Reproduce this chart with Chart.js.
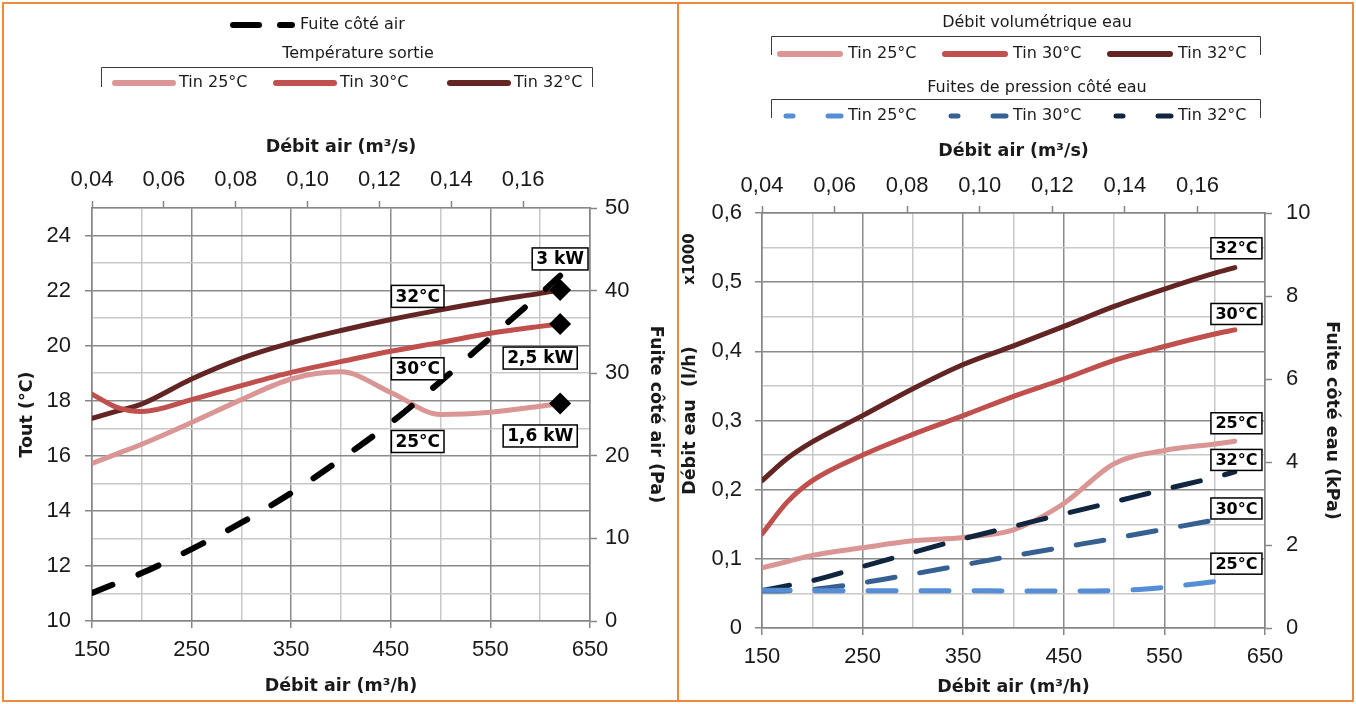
<!DOCTYPE html>
<html lang="fr">
<head>
<meta charset="UTF-8">
<title>Débit air : température de sortie, débit d'eau et pertes de charge</title>
<script src="https://cdn.jsdelivr.net/npm/chart.js"></script>
<style>
  html, body { margin: 0; padding: 0; background: #fff; }
  body { width: 1356px; height: 704px; position: relative; overflow: hidden; }
  canvas { position: absolute; top: 0; }
  #leftChart { left: 0; }
  #rightChart { left: 677px; }
  .frame { position: absolute; background: #eb8a3c; }
</style>
</head>
<body>
<canvas id="leftChart" width="677" height="704"></canvas>
<canvas id="rightChart" width="679" height="704"></canvas>
<div class="frame" style="left:2px;top:2px;width:1352px;height:2px"></div>
<div class="frame" style="left:2px;top:700px;width:1352px;height:2px"></div>
<div class="frame" style="left:2px;top:2px;width:2px;height:700px"></div>
<div class="frame" style="left:1352px;top:2px;width:2px;height:700px"></div>
<div class="frame" style="left:677px;top:2px;width:2px;height:700px"></div>

<script>
// ---- data ----
const airFlow = [150, 175, 200, 250, 300, 350, 400, 450, 500, 550, 600, 620];   // m3/h

// left graph : outlet temperature (°C) and air side pressure drop (Pa)
const tout25 = [15.72, 16.07, 16.42, 17.21, 18.04, 18.79, 19.05, 18.3, 17.5, 17.58, 17.8, 17.9];
const tout30 = [18.24, 17.76, 17.61, 18.04, 18.55, 19.03, 19.42, 19.8, 20.12, 20.45, 20.7, 20.79];
const tout32 = [17.36, 17.62, 17.88, 18.79, 19.54, 20.1, 20.55, 20.95, 21.3, 21.62, 21.9, 22.02];
const airLeakPa = [3.4, 4.6, 5.8, 8.7, 11.9, 15.5, 19.6, 24.0, 29.0, 34.3, 39.6, 41.8];
const powerLabels = ['1,6 kW', '2,5 kW', '3 kW'];

// right graph : water flow (x1000 l/h) and water side pressure drop (kPa)
const water25 = [0.087, 0.096, 0.105, 0.116, 0.126, 0.131, 0.142, 0.18, 0.2375, 0.2567, 0.266, 0.27];
const water30 = [0.136, 0.182, 0.213, 0.25, 0.28, 0.307, 0.335, 0.36, 0.387, 0.407, 0.425, 0.431];
const water32 = [0.213, 0.245, 0.269, 0.307, 0.346, 0.381, 0.408, 0.436, 0.465, 0.49, 0.513, 0.521];
const waterLeak25 = [0.91, 0.91, 0.9, 0.9, 0.9, 0.9, 0.89, 0.89, 0.9, 0.98, 1.12, 1.18];
const waterLeak30 = [0.89, 0.9, 0.93, 1.09, 1.3, 1.52, 1.74, 1.95, 2.16, 2.38, 2.6, 2.69];
const waterLeak32 = [0.9, 1.02, 1.14, 1.48, 1.82, 2.15, 2.45, 2.75, 3.04, 3.34, 3.63, 3.76];

const seriesNames = ['Tin 25°C', 'Tin 30°C', 'Tin 32°C'];
const tagNames = ['25°C', '30°C', '32°C'];

// ---- styling ----
const PINK = '#d99694', RED = '#c0504d', MAROON = '#632523';
const BLUE1 = '#558ed5', BLUE2 = '#376092', BLUE3 = '#10253f';
const AXIS_GREY = '#868686', MAJOR = '#8a8a8a', MINOR = '#c8c8c8';
const NUM_FONT = { family: "'Liberation Sans', Arial, sans-serif", size: 22 };
const TITLE_FONT = { family: "'DejaVu Sans', sans-serif", size: 17.5, weight: 'bold' };
const LEGEND_FONT = "16px 'DejaVu Sans', sans-serif";
const TXT = '#1a1a1a';

const pts = (xs, ys) => xs.map((x, i) => ({ x: x, y: ys[i] }));
const comma = (v, d) => v === 0 ? '0' : v.toFixed(d).replace('.', ',');

function curve(label, ys, color, axis, extra) {
  return Object.assign({
    label: label, data: pts(airFlow, ys), yAxisID: axis,
    borderColor: color, backgroundColor: color, borderWidth: 5,
    pointRadius: 0, fill: false, cubicInterpolationMode: 'monotone',
    borderCapStyle: 'round', borderJoinStyle: 'round'
  }, extra || {});
}

function gridOpts(isMajor) {
  return {
    color: c => isMajor(c.tick.value) ? MAJOR : MINOR,
    lineWidth: 1.5,
    tickLength: 7, tickWidth: 1.5,
    tickColor: c => isMajor(c.tick.value) ? AXIS_GREY : 'rgba(0,0,0,0)'
  };
}
const sideGrid = { drawOnChartArea: false, tickLength: 7, tickWidth: 1.5, tickColor: AXIS_GREY };
const border = { color: AXIS_GREY, width: 1.5 };

function axisTitle(text, pad) {
  return { display: true, text: text, font: TITLE_FONT, color: TXT, padding: pad };
}

function bottomAxis(h, pad, titlePad) {
  const major = v => (v - 150) % 100 === 0;
  return {
    type: 'linear', position: 'bottom', min: 150, max: 650,
    afterFit: s => { s.height = h; },
    ticks: { stepSize: 50, autoSkip: false, maxRotation: 0, padding: pad, font: NUM_FONT, color: TXT,
             callback: v => major(v) ? String(v) : '' },
    grid: gridOpts(major), border: border,
    title: axisTitle('Débit air (m³/h)', { top: 0, bottom: titlePad })
  };
}
function topAxis(h, pad, titlePad) {
  return {
    type: 'linear', position: 'top', min: 0.04, max: 0.1786,
    afterFit: s => { s.height = h; },
    ticks: { stepSize: 0.02, includeBounds: false, autoSkip: false, maxRotation: 0, padding: pad,
             font: NUM_FONT, color: TXT, callback: v => comma(v, 2) },
    grid: sideGrid, border: border,
    title: axisTitle('Débit air (m³/s)', { top: titlePad, bottom: 0 })
  };
}

// ---- canvas helpers ----
function seg(ctx, x1, x2, y, color, w) {
  ctx.save();
  ctx.strokeStyle = color; ctx.lineWidth = w; ctx.lineCap = 'round';
  ctx.beginPath(); ctx.moveTo(x1, y); ctx.lineTo(x2, y); ctx.stroke();
  ctx.restore();
}
function text(ctx, str, x, y, align) {
  ctx.save();
  ctx.font = LEGEND_FONT; ctx.fillStyle = TXT;
  ctx.textAlign = align || 'left'; ctx.textBaseline = 'middle';
  ctx.fillText(str, x, y);
  ctx.restore();
}
function bracket(ctx, x1, x2, y, yEnd) {
  ctx.save();
  ctx.strokeStyle = '#3c3c3c'; ctx.lineWidth = 1;
  ctx.beginPath(); ctx.moveTo(x1, yEnd); ctx.lineTo(x1, y); ctx.lineTo(x2, y); ctx.lineTo(x2, yEnd); ctx.stroke();
  ctx.restore();
}
function tagsPlugin(id, items, size, padX, h) {
  return {
    id: id,
    afterDatasetsDraw(chart) {
      const ctx = chart.ctx;
      items.forEach(t => {
        const px = chart.scales.x.getPixelForValue(t.x);
        const py = chart.scales[t.axis].getPixelForValue(t.y);
        ctx.save();
        ctx.font = "bold " + size + "px 'DejaVu Sans', sans-serif";
        const w = ctx.measureText(t.text).width + 2 * padX;
        ctx.fillStyle = '#fff';
        ctx.fillRect(px - w / 2, py - h / 2, w, h);
        ctx.strokeStyle = '#000'; ctx.lineWidth = 1.5;
        ctx.strokeRect(px - w / 2, py - h / 2, w, h);
        ctx.fillStyle = '#000'; ctx.textAlign = 'center'; ctx.textBaseline = 'middle';
        ctx.fillText(t.text, px, py + 1);
        ctx.restore();
      });
    }
  };
}

// ---- left graph ----
const leftLegend = {
  id: 'leftLegend',
  afterDraw(chart) {
    const ctx = chart.ctx, sets = chart.data.datasets;
    const leak = sets.find(d => d.group === 'leak');
    seg(ctx, 233, 259, 25, leak.borderColor, 6);
    seg(ctx, 280, 292, 25, leak.borderColor, 6);
    text(ctx, leak.label, 300, 25);
    text(ctx, 'Température sortie', 358, 54, 'center');
    bracket(ctx, 101.5, 592.5, 67.5, 87);
    const slots = [115, 276, 450];
    sets.filter(d => d.group === 'temp').forEach((d, i) => {
      seg(ctx, slots[i], slots[i] + 58, 83, d.borderColor, 6);
      text(ctx, d.label, slots[i] + 64, 83);
    });
  }
};

const leftTags = [
  { text: tagNames[2], x: 477, y: 21.79, axis: 'y' },
  { text: tagNames[1], x: 477, y: 19.16, axis: 'y' },
  { text: tagNames[0], x: 477, y: 16.52, axis: 'y' },
  { text: powerLabels[2], x: 620, y: 23.15, axis: 'y' },
  { text: powerLabels[1], x: 600, y: 19.55, axis: 'y' },
  { text: powerLabels[0], x: 600, y: 16.72, axis: 'y' }
];

const last = a => a[a.length - 1];
const lastX = last(airFlow);

new Chart(document.getElementById('leftChart'), {
  type: 'line',
  data: {
    datasets: [
      { label: 'Puissance', group: 'power', showLine: false, yAxisID: 'y', order: -2,
        data: [{ x: lastX, y: last(tout25) }, { x: lastX, y: last(tout30) }, { x: lastX, y: last(tout32) }],
        pointStyle: 'rectRot', pointRadius: 11, pointBackgroundColor: '#000', pointBorderWidth: 0 },
      curve('Fuite côté air', airLeakPa, '#000', 'y2', { group: 'leak', borderWidth: 6, borderDash: [22, 28], order: -1 }),
      curve(seriesNames[0], tout25, PINK, 'y', { group: 'temp' }),
      curve(seriesNames[1], tout30, RED, 'y', { group: 'temp' }),
      curve(seriesNames[2], tout32, MAROON, 'y', { group: 'temp' })
    ]
  },
  options: {
    responsive: false, animation: false, events: [],
    layout: { padding: { top: 135, left: 0, right: 0, bottom: 0 } },
    plugins: { legend: { display: false }, tooltip: { enabled: false } },
    scales: {
      x: bottomAxis(83, 9, 7.5),
      x2: topAxis(73, 8, 1.5),
      y: {
        type: 'linear', position: 'left', min: 10, max: 25,
        afterFit: s => { s.width = 92; },
        ticks: { stepSize: 1, autoSkip: false, padding: 14, font: NUM_FONT, color: TXT,
                 callback: v => v % 2 === 0 ? String(v) : '' },
        grid: gridOpts(v => v % 2 === 0), border: border,
        title: axisTitle('Tout (°C)', { top: 17, bottom: 0 })
      },
      y2: {
        type: 'linear', position: 'right', min: 0, max: 50,
        afterFit: s => { s.width = 87; },
        ticks: { stepSize: 10, autoSkip: false, padding: 8, font: NUM_FONT, color: TXT },
        grid: sideGrid, border: border,
        title: axisTitle('Fuite côté air (Pa)', { top: 10.5, bottom: 0 })
      }
    }
  },
  plugins: [leftLegend, tagsPlugin('leftTags', leftTags, 17, 4, 22)]
});

// ---- right graph ----
const rightLegend = {
  id: 'rightLegend',
  afterDraw(chart) {
    const ctx = chart.ctx, sets = chart.data.datasets;
    const slots = [103, 268, 433];
    text(ctx, 'Débit volumétrique eau', 360, 23, 'center');
    bracket(ctx, 94.5, 583.5, 36.5, 55);
    sets.filter(d => d.group === 'flow').forEach((d, i) => {
      seg(ctx, slots[i], slots[i] + 60, 54, d.borderColor, 6);
      text(ctx, d.label, slots[i] + 68, 54);
    });
    text(ctx, 'Fuites de pression côté eau', 360, 88, 'center');
    bracket(ctx, 94.5, 583.5, 99.5, 118);
    sets.filter(d => d.group === 'wleak').forEach((d, i) => {
      seg(ctx, slots[i] + 6, slots[i] + 13, 116, d.borderColor, 5);
      seg(ctx, slots[i] + 48, slots[i] + 61, 116, d.borderColor, 5);
      text(ctx, d.label, slots[i] + 68, 116);
    });
    // display unit of the left axis
    ctx.save();
    ctx.translate(13, 259); ctx.rotate(-Math.PI / 2);
    ctx.font = "bold 15px 'DejaVu Sans', sans-serif"; ctx.fillStyle = TXT;
    ctx.textAlign = 'center'; ctx.textBaseline = 'middle';
    ctx.fillText('x1000', 0, 0);
    ctx.restore();
  }
};

const rightTags = [
  { text: tagNames[2], x: 621.6, y: 0.549, axis: 'y' },
  { text: tagNames[1], x: 621.6, y: 0.454, axis: 'y' },
  { text: tagNames[0], x: 621.6, y: 0.296, axis: 'y' },
  { text: tagNames[2], x: 621.6, y: 4.05, axis: 'y2' },
  { text: tagNames[1], x: 621.6, y: 2.88, axis: 'y2' },
  { text: tagNames[0], x: 621.6, y: 1.55, axis: 'y2' }
];

const majorWater = v => Math.round(v * 20) % 2 === 0;

new Chart(document.getElementById('rightChart'), {
  type: 'line',
  data: {
    datasets: [
      curve(seriesNames[0], waterLeak25, BLUE1, 'y2', { group: 'wleak', borderDash: [28, 25], order: -1 }),
      curve(seriesNames[1], waterLeak30, BLUE2, 'y2', { group: 'wleak', borderDash: [28, 25], order: -1 }),
      curve(seriesNames[2], waterLeak32, BLUE3, 'y2', { group: 'wleak', borderDash: [28, 25], order: -1 }),
      curve(seriesNames[0], water25, PINK, 'y', { group: 'flow' }),
      curve(seriesNames[1], water30, RED, 'y', { group: 'flow' }),
      curve(seriesNames[2], water32, MAROON, 'y', { group: 'flow' })
    ]
  },
  options: {
    responsive: false, animation: false, events: [],
    layout: { padding: { top: 140, left: 0, right: 0, bottom: 0 } },
    plugins: { legend: { display: false }, tooltip: { enabled: false } },
    scales: {
      x: bottomAxis(76, 8.8, 6.5),
      x2: topAxis(73, 6.8, 0.5),
      y: {
        type: 'linear', position: 'left', min: 0, max: 0.6,
        afterFit: s => { s.width = 85; },
        ticks: { stepSize: 0.05, autoSkip: false, padding: 13, font: NUM_FONT, color: TXT,
                 callback: v => majorWater(v) ? comma(v, 1) : '' },
        grid: gridOpts(majorWater), border: border,
        title: axisTitle('Débit eau  (l/h)', { top: 2.5, bottom: 0 })
      },
      y2: {
        type: 'linear', position: 'right', min: 0, max: 10,
        afterFit: s => { s.width = 91; },
        ticks: { stepSize: 2, autoSkip: false, padding: 14, font: NUM_FONT, color: TXT },
        grid: sideGrid, border: border,
        title: axisTitle('Fuite côté eau (kPa)', { top: 13.8, bottom: 0 })
      }
    }
  },
  plugins: [rightLegend, tagsPlugin('rightTags', rightTags, 16, 4.5, 21)]
});
</script>
</body>
</html>
